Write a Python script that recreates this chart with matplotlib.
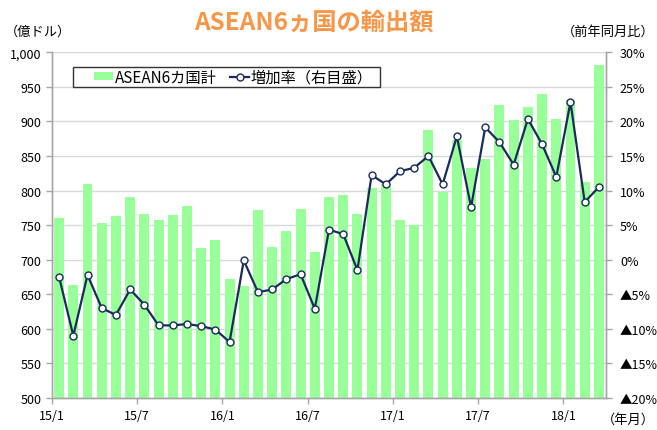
import matplotlib
matplotlib.use('Agg')
import matplotlib.pyplot as plt
from matplotlib.patches import Rectangle
import numpy as np

plt.rcParams['font.family'] = ['Noto Sans CJK JP', 'DejaVu Sans']

months = [f"{y}/{m}" for y in (15, 16, 17) for m in range(1, 13)] + ["18/1", "18/2", "18/3"]
exports = [761, 663, 809, 753, 763, 790, 766, 757, 765, 778, 717, 728,
           672, 662, 772, 719, 741, 773, 711, 790, 794, 766, 804, 809,
           757, 750, 888, 798, 873, 832, 846, 924, 902, 921, 939, 903,
           931, 812, 981]
growth = [-2.5, -11.0, -2.2, -7.0, -8.0, -4.3, -6.5, -9.5, -9.5, -9.3, -9.6, -10.1,
          -11.9, -0.1, -4.7, -4.3, -2.8, -2.1, -7.1, 4.35, 3.7, -1.5, 12.25, 10.9,
          12.8, 13.3, 15.0, 10.9, 17.85, 7.6, 19.15, 17.0, 13.75, 20.35, 16.7, 11.97,
          22.8, 8.35, 10.5]
tick_labels = ["15/1", "15/7", "16/1", "16/7", "17/1", "17/7", "18/1"]
left_ticks = list(range(500, 1001, 50))
right_ticks = list(range(-20, 31, 5))

W, H = 657, 431
fig = plt.figure(figsize=(W / 100, H / 100), dpi=100)
ax = fig.add_axes([52 / W, 1 - 399 / H, (606 - 52) / W, (399 - 53.3) / H])
ax2 = ax.twinx()

x = np.arange(len(months))
bar_color = '#99FF99'
line_color = '#1B2A5C'
grid_color = '#D9D9D9'
axis_color = '#A6A6A6'

bars = ax.bar(x, exports, width=0.7, color=bar_color, zorder=2, label='ASEAN6カ国計')
ax.set_ylim(500, 1000)
ax.set_xlim(-0.5, len(months) - 0.5)
ax.set_yticks(left_ticks)
ax.set_yticklabels([f"{v:,}" for v in left_ticks], fontsize=9)
ax.yaxis.grid(True, color=grid_color, linewidth=1, zorder=0)
ax.set_axisbelow(True)

idx = [months.index(t) for t in tick_labels]
ax.set_xticks([i - 0.5 for i in idx])
ax.set_xticklabels(tick_labels, fontsize=9)

line, = ax2.plot(x, growth, color=line_color, linewidth=1.6, marker='o', markersize=5,
                 markerfacecolor='white', markeredgecolor=line_color, markeredgewidth=1.0,
                 label='増加率（右目盛）', zorder=3)
ax2.set_ylim(-20, 30)
ax2.set_yticks(right_ticks)
ax2.set_yticklabels([("▲" + f"{-v}%") if v < 0 else f"{v}%" for v in right_ticks], fontsize=9)

for a in (ax, ax2):
    a.spines['top'].set_visible(False)
    for s in ('left', 'right', 'bottom'):
        a.spines[s].set_color(axis_color)
        a.spines[s].set_linewidth(1)
    a.tick_params(axis='both', colors=axis_color, labelcolor='black', length=4, width=1, direction='out')
ax.tick_params(axis='x', pad=4)
ax2.tick_params(axis='y', pad=6)

# legend box (drawn as a plain rectangle) and entries
fig.patches.append(Rectangle((72.7 / W, 1 - 88.3 / H), (380 - 72.7) / W, (88.3 - 67.7) / H,
                             transform=fig.transFigure, facecolor='white', edgecolor='#333333',
                             linewidth=1, zorder=5))
leg = fig.legend([bars, line], ['ASEAN6カ国計', '増加率（右目盛）'], ncol=2,
                 loc='center left', bbox_to_anchor=(94 / W, 1 - 78 / H),
                 bbox_transform=fig.transFigure, frameon=False,
                 fontsize=11, handlelength=1.25, handleheight=0.5, handletextpad=0.1,
                 columnspacing=0.9, borderpad=0, borderaxespad=0)
leg.set_zorder(6)

fig.text(314 / W, 1 - 23 / H, 'ASEAN6ヵ国の輸出額', ha='center', va='center',
         fontsize=17.5, fontweight='bold', color='#F79646')
fig.text(5 / W, 1 - 32 / H, '（億ドル）', ha='left', va='center', fontsize=9.5)
fig.text(655 / W, 1 - 32 / H, '（前年同月比）', ha='right', va='center', fontsize=9.5)
fig.text(655 / W, 1 - 420 / H, '（年月）', ha='right', va='center', fontsize=9.5)

fig.savefig('out.png', dpi=100)
